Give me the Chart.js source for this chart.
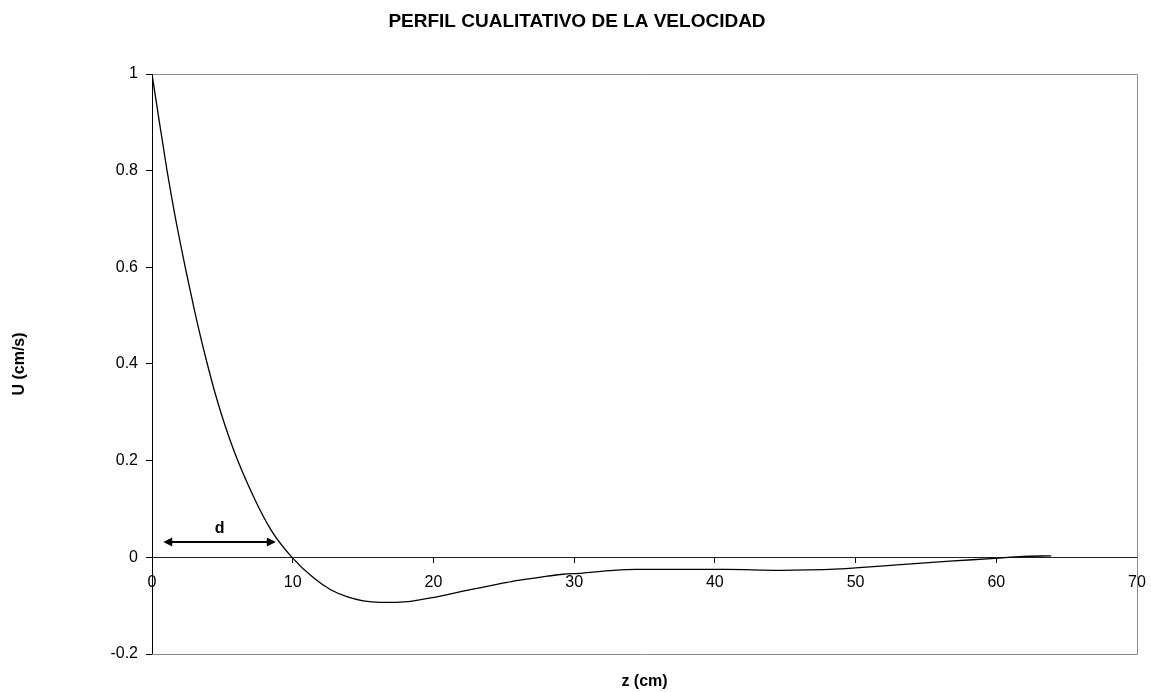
<!DOCTYPE html>
<html>
<head>
<meta charset="utf-8">
<script src="https://cdn.jsdelivr.net/npm/chart.js@4.4.1/dist/chart.umd.min.js"></script>
<style>
  html, body { margin: 0; padding: 0; background: #fff; }
  #wrap { width: 1151px; height: 692px; }
</style>
</head>
<body>
<div id="wrap"><canvas id="chart"></canvas></div>
<script>
// profil de vitesse
const zValues = [0, 0.5, 1.07, 1.69, 2.40, 3.01, 3.68, 4.62, 5.79, 7.32, 8.45, 9.95, 11.5, 12.7, 13.9, 15.0, 16.2, 17.4, 18.6, 19.8, 21.0, 22.1, 23.3, 24.5, 25.7, 26.9, 28.1, 29.2, 30.4, 32.8, 34.4, 40.8, 44.6, 48.9, 50.0, 53.2, 56.7, 59.9, 61.9, 63.9];
const uValues = [1, 0.905, 0.80, 0.698, 0.595, 0.512, 0.429, 0.326, 0.223, 0.119, 0.057, 0, -0.043, -0.067, -0.082, -0.090, -0.093, -0.093, -0.090, -0.084, -0.077, -0.070, -0.063, -0.056, -0.049, -0.044, -0.039, -0.035, -0.033, -0.027, -0.025, -0.025, -0.027, -0.024, -0.022, -0.015, -0.008, -0.002, 0.002, 0.003];

const xTicks = [0, 10, 20, 30, 40, 50, 60, 70];
const yTicks = [-0.2, 0, 0.2, 0.4, 0.6, 0.8, 1];
const yTickLabels = ["-0.2", "0", "0.2", "0.4", "0.6", "0.8", "1"];

// flèche "d"
const arrowZ = [0.8, 8.8];
const arrowU = 0.031;
const arrowLabel = "d";

const chartTitle = "PERFIL CUALITATIVO DE LA VELOCIDAD";
const xTitle = "z (cm)";
const yTitle = "U (cm/s)";

const FONT = "'Liberation Sans', Arial, sans-serif";

const points = zValues.map((z, i) => ({ x: z, y: uValues[i] }));

// cadre gris (haut, droite, bas)
const framePlugin = {
    id: "frame",
    beforeDatasetsDraw(chart) {
        const { ctx, chartArea: a } = chart;
        ctx.save();
        ctx.strokeStyle = "#8c8c8c";
        ctx.lineWidth = 1;
        ctx.beginPath();
        ctx.moveTo(a.left, a.top + 0.5);
        ctx.lineTo(a.right + 0.5, a.top + 0.5);
        ctx.lineTo(a.right + 0.5, a.bottom + 0.5);
        ctx.lineTo(a.left, a.bottom + 0.5);
        ctx.stroke();
        ctx.restore();
    }
};

// titre + flèche d
const annotPlugin = {
    id: "annot",
    afterDatasetsDraw(chart) {
        const { ctx, scales } = chart;
        ctx.save();
        ctx.fillStyle = "#000";
        ctx.font = "bold 19px " + FONT;
        ctx.textAlign = "center";
        ctx.textBaseline = "middle";
        ctx.fillText(chartTitle, 577, 22);

        const x1 = scales.x.getPixelForValue(arrowZ[0]);
        const x2 = scales.x.getPixelForValue(arrowZ[1]);
        const y = Math.round(scales.y.getPixelForValue(arrowU));
        const head = 9, half = 4.5;
        ctx.strokeStyle = "#000";
        ctx.lineWidth = 2;
        ctx.beginPath();
        ctx.moveTo(x1 + head - 1, y);
        ctx.lineTo(x2 - head + 1, y);
        ctx.stroke();
        ctx.beginPath();
        ctx.moveTo(x1, y);
        ctx.lineTo(x1 + head, y - half);
        ctx.lineTo(x1 + head, y + half);
        ctx.closePath();
        ctx.moveTo(x2, y);
        ctx.lineTo(x2 - head, y - half);
        ctx.lineTo(x2 - head, y + half);
        ctx.closePath();
        ctx.fill();

        ctx.font = "bold 16px " + FONT;
        ctx.fillText(arrowLabel, (x1 + x2) / 2, y - 13);
        ctx.restore();
    }
};

new Chart(document.getElementById("chart"), {
    type: "scatter",
    data: {
        datasets: [{
            data: points,
            showLine: true,
            borderColor: "#000",
            borderWidth: 1.3,
            pointRadius: 0,
            cubicInterpolationMode: "monotone",
            fill: false
        }]
    },
    options: {
        responsive: true,
        maintainAspectRatio: false,
        animation: false,
        devicePixelRatio: 1,
        layout: { padding: { top: 74, right: 14, bottom: 0, left: 0 } },
        plugins: {
            legend: { display: false },
            tooltip: { enabled: false }
        },
        scales: {
            x: {
                type: "linear",
                position: { y: 0 },
                min: 0,
                max: 70,
                afterBuildTicks: s => { s.ticks = xTicks.map(v => ({ value: v })); },
                afterFit: s => { s.height = 0; s.paddingLeft = 0; s.paddingRight = 0; },
                ticks: { color: "#000", font: { family: FONT, size: 16 }, padding: 11, maxRotation: 0 },
                grid: { drawOnChartArea: false, tickLength: 5, color: "#000" },
                border: { color: "#222", width: 1 }
            },
            x2: {
                axis: "x",
                type: "linear",
                position: "bottom",
                min: 0,
                max: 70,
                afterFit: s => { s.height = 38; s.paddingLeft = 0; s.paddingRight = 0; },
                ticks: { display: false },
                grid: { display: false },
                border: { display: false },
                title: {
                    display: true,
                    text: xTitle,
                    color: "#000",
                    font: { family: FONT, size: 16, weight: "bold" },
                    padding: { top: 0, bottom: 1 }
                }
            },
            y: {
                type: "linear",
                position: "left",
                min: -0.2,
                max: 1,
                afterBuildTicks: s => { s.ticks = yTicks.map(v => ({ value: v })); },
                afterFit: s => { s.width = 152; },
                ticks: {
                    color: "#000",
                    font: { family: FONT, size: 16 },
                    padding: 8,
                    callback: (v, i) => yTickLabels[i]
                },
                grid: { drawOnChartArea: false, tickLength: 6, color: "#000" },
                border: { color: "#000", width: 1 },
                title: {
                    display: true,
                    text: yTitle,
                    color: "#000",
                    font: { family: FONT, size: 16, weight: "bold" },
                    padding: { top: 10, bottom: 0 }
                }
            }
        }
    },
    plugins: [framePlugin, annotPlugin]
});
</script>
</body>
</html>
